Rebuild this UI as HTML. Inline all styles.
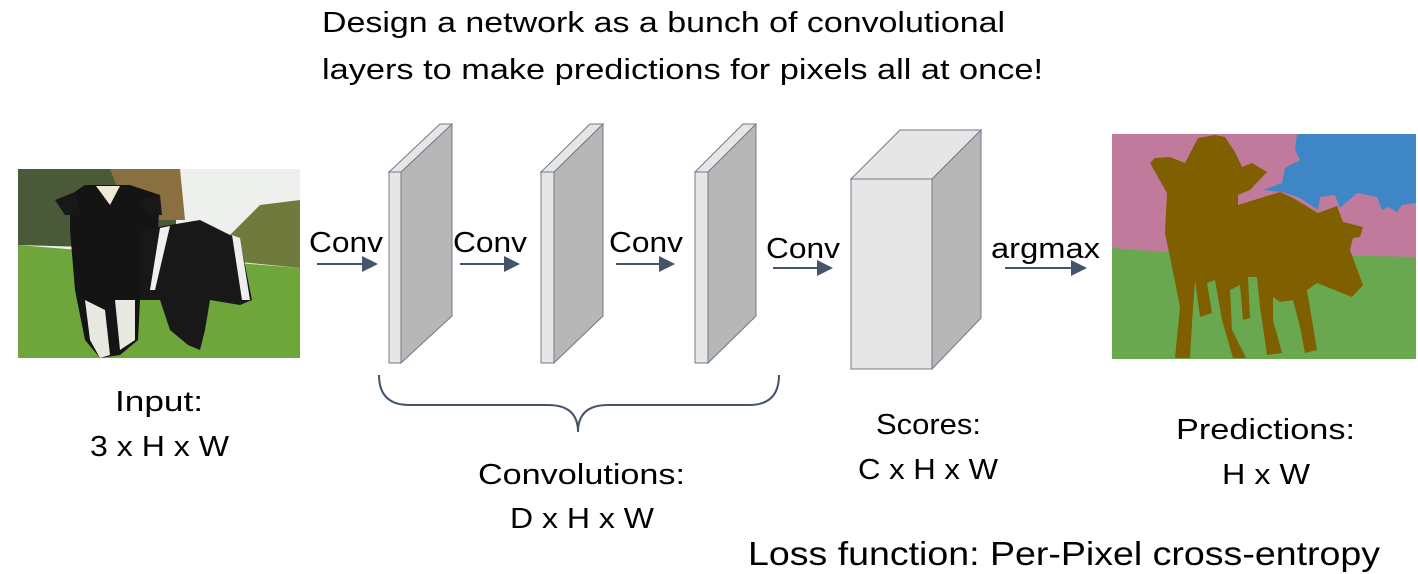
<!DOCTYPE html>
<html><head><meta charset="utf-8"><style>
html,body{margin:0;padding:0;background:#fff;}
svg{display:block;}
text{font-family:"Liberation Sans",sans-serif;fill:#000;}
</style></head><body>
<svg width="1418" height="574" viewBox="0 0 1418 574">
<defs><marker id="ah" markerWidth="8" markerHeight="8" refX="7" refY="4" orient="auto"><path d="M0,0 L8,4 L0,8 Z" fill="#44546a"/></marker></defs>
<g font-size="29">
<text x="322" y="32" textLength="683" lengthAdjust="spacingAndGlyphs">Design a network as a bunch of convolutional</text>
<text x="322" y="79" textLength="721" lengthAdjust="spacingAndGlyphs">layers to  make predictions for pixels all at once!</text>
</g>
<g>
<rect x="18" y="169" width="282" height="189" fill="#eef0ee"/>
<path d="M18,169 L180,169 L175,235 L190,250 L18,245Z" fill="#4a5a38"/>
<path d="M110,169 L180,169 L185,220 L130,220Z" fill="#8a7040"/>
<path d="M230,235 L260,205 L300,200 L300,268 L240,262Z" fill="#6f7a3c"/>
<path d="M18,245 L300,268 L300,358 L18,358Z" fill="#6ea63c"/>
<path d="M70,195 L85,185 L130,185 L160,195 L158,230 L140,300 L138,340 L120,355 L100,358 L85,340 L75,290 L70,230Z" fill="#141414"/>
<path d="M55,200 L75,192 L80,215 L65,215Z" fill="#181818"/>
<path d="M140,200 L160,195 L162,215 L148,215Z" fill="#181818"/>
<path d="M96,186 L120,186 L110,205Z" fill="#f0ebd8"/>
<path d="M140,230 L200,220 L240,240 L252,300 L240,305 L210,300 L205,330 L200,350 L188,345 L170,330 L160,300 L140,300Z" fill="#181818"/>
<path d="M160,228 L170,226 L155,290 L150,290Z" fill="#f0f0f0"/>
<path d="M232,235 L240,238 L250,300 L242,300Z" fill="#eeeeee"/>
<path d="M85,300 L105,310 L110,355 L100,358 L90,340Z" fill="#e8e8e0"/>
<path d="M115,300 L135,300 L135,340 L120,350Z" fill="#e8e8e0"/>
</g>
<g>
<rect x="1112" y="134" width="304" height="225" fill="#c07a9c"/>
<path d="M1297,134 L1416,134 L1416,203 L1402,205 L1397,212 L1388,207 L1382,210 L1377,197 L1357,193 L1340,208 L1335,195 L1320,197 L1318,210 L1300,198 L1282,192 L1263,190 L1282,183 L1285,168 L1300,160 L1295,150Z" fill="#3f86c6"/>
<path d="M1112,248 L1167,252 L1416,257 L1416,359 L1112,359Z" fill="#6aa84f"/>
<path d="M1150,163 L1155,158 L1170,157 L1185,163 L1198,138 L1215,135 L1225,137 L1235,152 L1242,167 L1252,163 L1267,172 L1250,190 L1238,195 L1238,205 L1280,192 L1293,198 L1318,213 L1337,206 L1343,222 L1363,227 L1360,237 L1353,238 L1350,250 L1363,285 L1352,297 L1317,283 L1307,290 L1317,350 L1305,353 L1300,327 L1293,300 L1280,302 L1273,297 L1273,320 L1282,353 L1267,355 L1260,307 L1257,277 L1248,277 L1250,318 L1243,320 L1240,285 L1230,290 L1232,330 L1246,358 L1233,358 L1222,320 L1215,280 L1207,283 L1212,313 L1200,317 L1195,280 L1192,323 L1190,358 L1175,358 L1180,307 L1172,267 L1165,233 L1167,193Z" fill="#7f5f00"/>
</g>
<g stroke="#6f7b8a" stroke-width="1">
<path d="M401,172 L452,124 L452,316 L401,363Z" fill="#b7b7b7"/>
<path d="M389,172 L440,124 L452,124 L401,172Z" fill="#e6e6e6"/>
<rect x="389" y="172" width="12" height="191" fill="#e6e6e6"/>
</g>
<g stroke="#6f7b8a" stroke-width="1">
<path d="M554,172 L603,124 L603,316 L554,363Z" fill="#b7b7b7"/>
<path d="M541,172 L590,124 L603,124 L554,172Z" fill="#e6e6e6"/>
<rect x="541" y="172" width="13" height="191" fill="#e6e6e6"/>
</g>
<g stroke="#6f7b8a" stroke-width="1">
<path d="M708,172 L756,124 L756,316 L708,363Z" fill="#b7b7b7"/>
<path d="M695,172 L743,124 L756,124 L708,172Z" fill="#e6e6e6"/>
<rect x="695" y="172" width="13" height="191" fill="#e6e6e6"/>
</g>
<g stroke="#6f7b8a" stroke-width="1">
<path d="M932,179 L981,130 L981,318 L932,369Z" fill="#b7b7b7"/>
<path d="M851,179 L900,130 L981,130 L932,179Z" fill="#e6e6e6"/>
<rect x="851" y="179" width="81" height="190" fill="#e6e6e6"/>
</g>
<g stroke="#44546a" stroke-width="2" marker-end="url(#ah)">
<line x1="317" y1="264" x2="376" y2="264"/>
<line x1="460" y1="264" x2="518" y2="264"/>
<line x1="616" y1="264" x2="673" y2="264"/>
<line x1="773" y1="268" x2="831" y2="268"/>
<line x1="1005" y1="268" x2="1085" y2="268"/>
</g>
<g font-size="29">
<text x="309" y="252" textLength="74" lengthAdjust="spacingAndGlyphs">Conv</text>
<text x="453" y="252" textLength="74" lengthAdjust="spacingAndGlyphs">Conv</text>
<text x="609" y="252" textLength="74" lengthAdjust="spacingAndGlyphs">Conv</text>
<text x="766" y="258" textLength="74" lengthAdjust="spacingAndGlyphs">Conv</text>
<text x="991" y="258" textLength="109" lengthAdjust="spacingAndGlyphs">argmax</text>
</g>
<path d="M379,375 Q379,405 409,405 L548,405 Q578,405 578,432 Q578,405 608,405 L749,405 Q779,405 779,375" fill="none" stroke="#44546a" stroke-width="2"/>
<g font-size="29">
<text x="115" y="411" textLength="88" lengthAdjust="spacingAndGlyphs">Input:</text>
<text x="90" y="456" textLength="139" lengthAdjust="spacingAndGlyphs">3 x H x W</text>
<text x="478" y="484" textLength="207" lengthAdjust="spacingAndGlyphs">Convolutions:</text>
<text x="510" y="528" textLength="144" lengthAdjust="spacingAndGlyphs">D x H x W</text>
<text x="876" y="434" textLength="105" lengthAdjust="spacingAndGlyphs">Scores:</text>
<text x="858" y="479" textLength="140" lengthAdjust="spacingAndGlyphs">C x H x W</text>
<text x="1176" y="439" textLength="179" lengthAdjust="spacingAndGlyphs">Predictions:</text>
<text x="1222" y="484" textLength="88" lengthAdjust="spacingAndGlyphs">H x W</text>
</g>
<text x="748" y="565" font-size="33" textLength="632" lengthAdjust="spacingAndGlyphs">Loss function: Per-Pixel cross-entropy</text>
</svg>
</body></html>
